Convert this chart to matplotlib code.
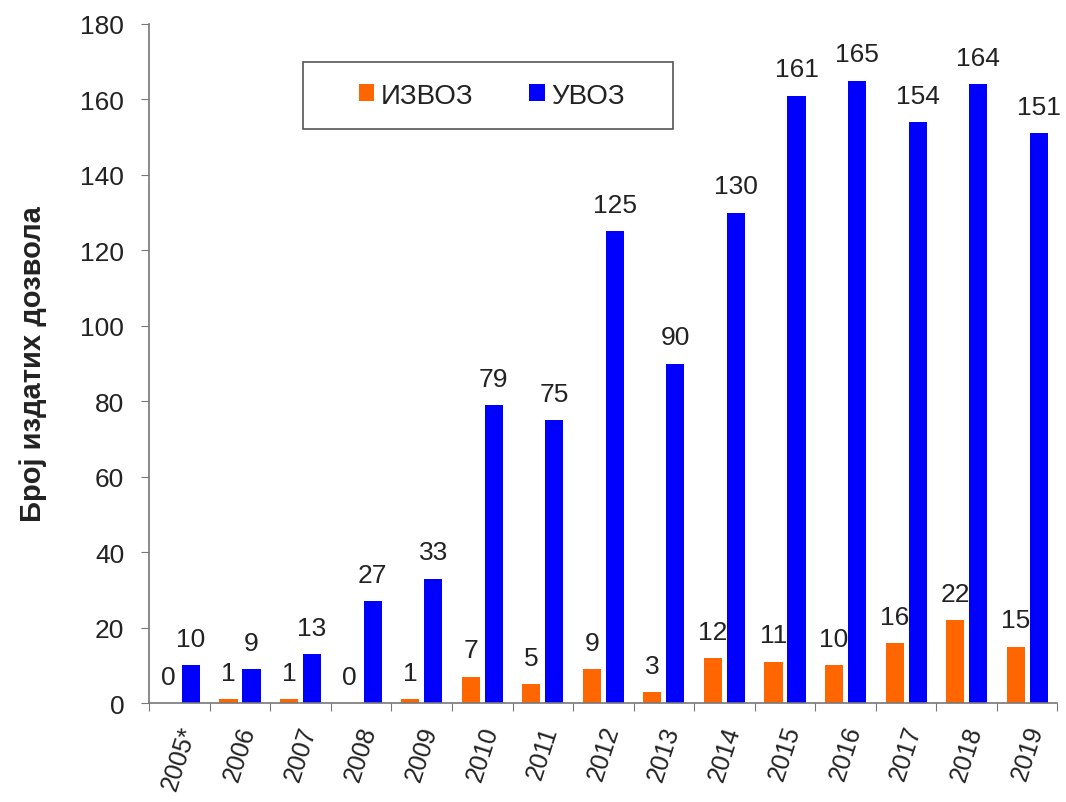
import numpy as np
import matplotlib.pyplot as plt
from matplotlib.patches import Rectangle

plt.rcParams['font.family'] = ['Liberation Sans', 'DejaVu Sans']

years = ["2005*", "2006", "2007", "2008", "2009", "2010", "2011", "2012",
         "2013", "2014", "2015", "2016", "2017", "2018", "2019"]
izvoz = [0, 1, 1, 0, 1, 7, 5, 9, 3, 12, 11, 10, 16, 22, 15]
uvoz = [10, 9, 13, 27, 33, 79, 75, 125, 90, 130, 161, 165, 154, 164, 151]

fig = plt.figure(figsize=(10.66, 8.03), dpi=100)
ax = fig.add_axes([0.140, 0.123, 0.852, 0.846])

x = np.arange(len(years))
w = 0.30
b1 = ax.bar(x - 0.19, izvoz, w, color="#FF6600", label="ИЗВОЗ")
b2 = ax.bar(x + 0.19, uvoz, w, color="#0000FF", label="УВОЗ")

for rect, v in zip(b1, izvoz):
    ax.text(rect.get_x() + rect.get_width() / 2, v + 3.8, str(v),
            ha="center", va="bottom", fontsize=19, color="#222222")
for rect, v in zip(b2, uvoz):
    ax.text(rect.get_x() + rect.get_width() / 2, v + 3.8, str(v),
            ha="center", va="bottom", fontsize=19, color="#222222")

ax.set_xlim(-0.5, len(years) - 0.5)
ax.set_ylim(0, 180)
ax.set_yticks(range(0, 181, 20))
ax.tick_params(axis="y", labelsize=19, length=6, pad=12, direction="out",
               color="#777777", labelcolor="#222222")

# ticks at the category boundaries, labels in the middle
ax.set_xticks(np.arange(len(years) + 1) - 0.5)
ax.set_xticklabels([])
ax.set_xticks(x, minor=True)
ax.set_xticklabels(years, minor=True, rotation=72, ha="center", va="top",
                   fontsize=18, color="#222222")
ax.tick_params(axis="x", which="major", length=6, direction="out", color="#777777")
ax.tick_params(axis="x", which="minor", length=0, pad=14)

ax.spines["top"].set_visible(False)
ax.spines["right"].set_visible(False)
for s in ("left", "bottom"):
    ax.spines[s].set_color("#777777")
    ax.spines[s].set_linewidth(1.2)

ax.set_ylabel("Број издатих дозвола", fontsize=21, fontweight="bold",
              labelpad=24, color="#222222")

# legend frame drawn by hand, the entries placed inside it
fig.patches.append(Rectangle((0.284, 0.838), 0.347, 0.0834, transform=fig.transFigure,
                             facecolor="white", edgecolor="#555555", linewidth=1.2))
leg = fig.legend(handles=[b1, b2], loc="center", bbox_to_anchor=(0.4615, 0.8797),
                 ncol=2, fontsize=20, frameon=False, handlelength=0.55,
                 handleheight=0.55, handletextpad=0.25, columnspacing=2.0,
                 borderpad=0, borderaxespad=0)
for t in leg.get_texts():
    t.set_color("#222222")

fig.savefig("out.png", dpi=100)
